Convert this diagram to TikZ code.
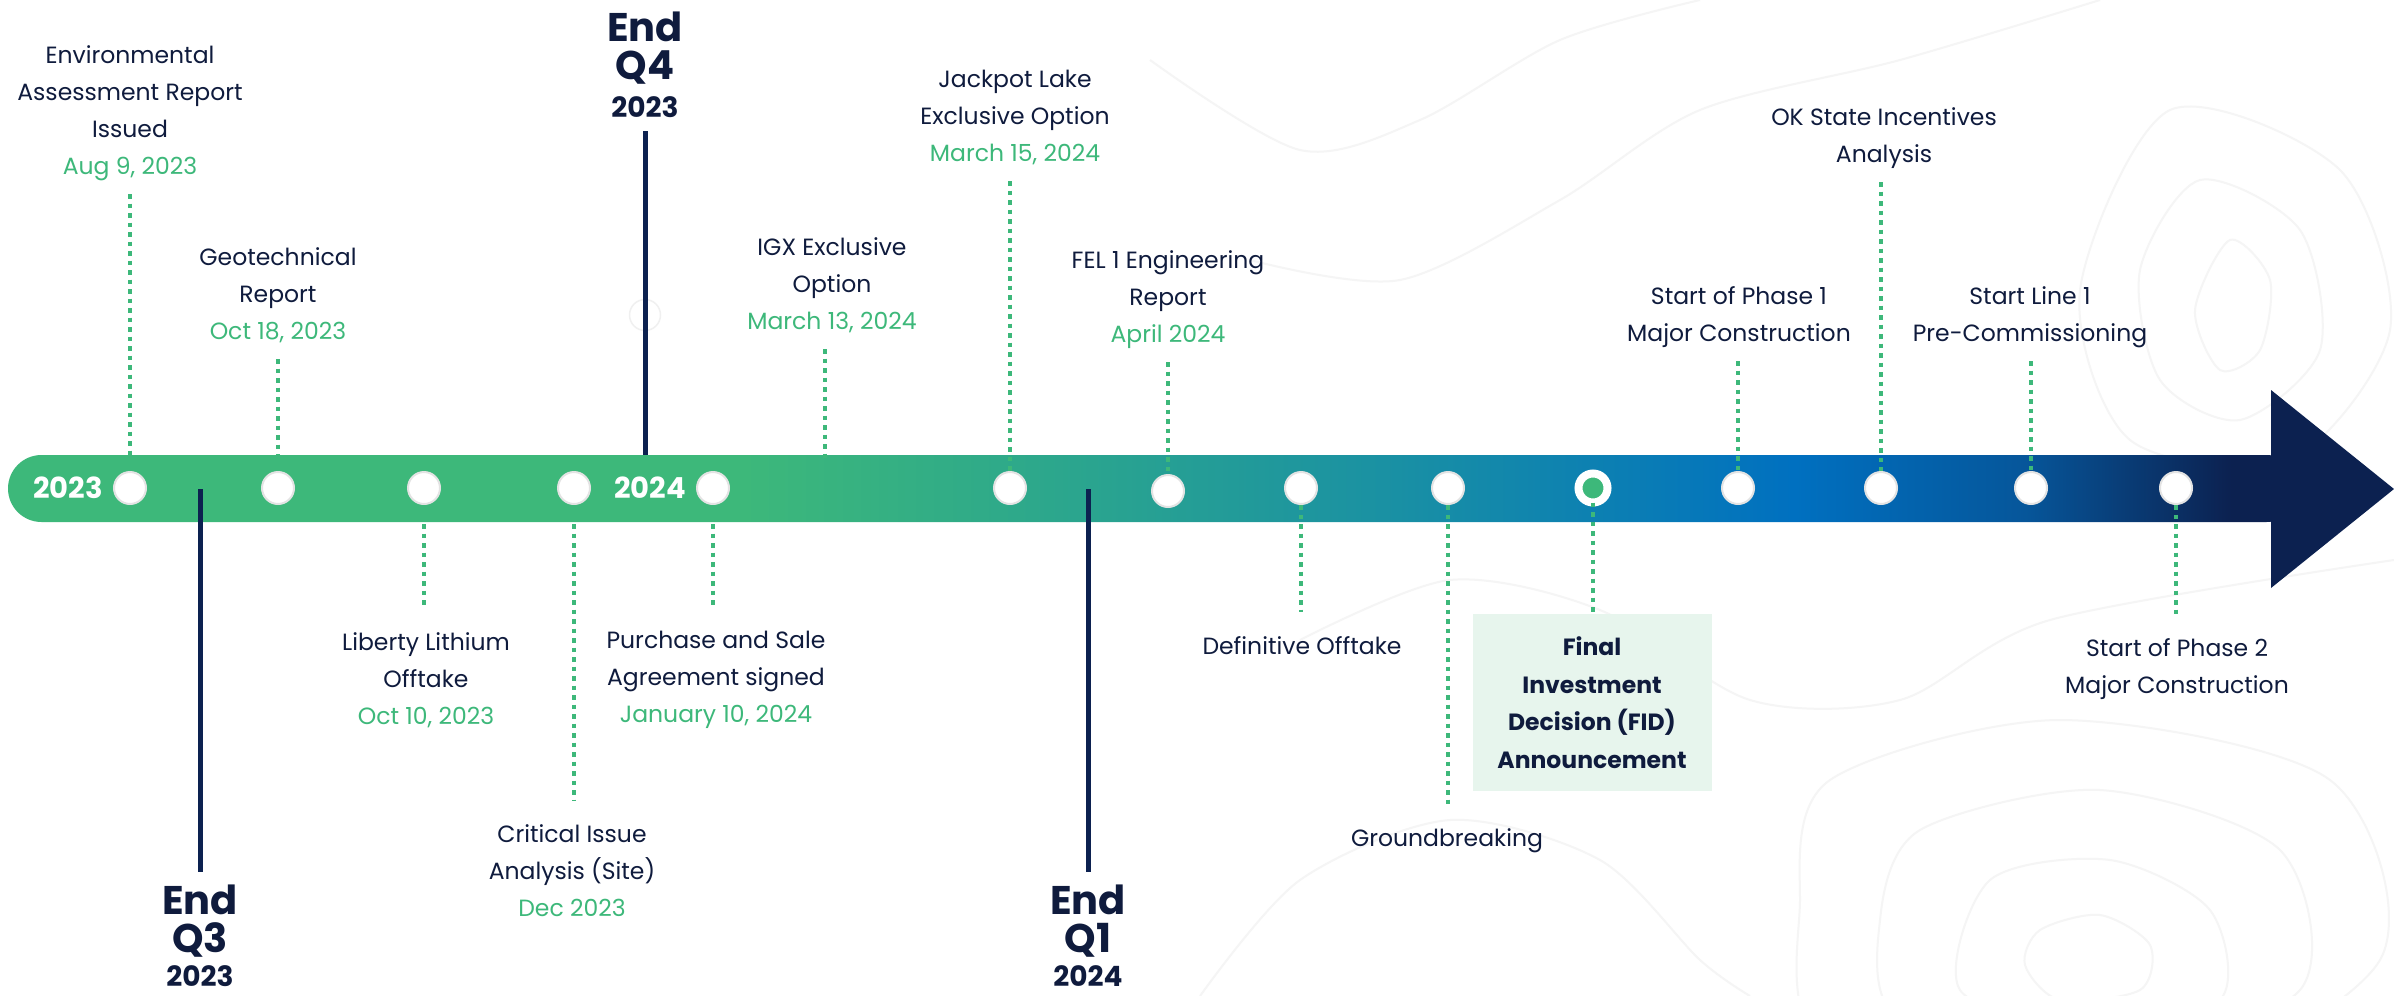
\documentclass[tikz,border=0pt]{standalone}
\usepackage{fontspec}
\setmainfont{Poppins}
\usepackage{xcolor}
\usepackage{tikz}
\usetikzlibrary{positioning, calc}

\definecolor{tlgreen}{HTML}{3DB87A}
\definecolor{tlgm}{HTML}{2EA98A}
\definecolor{tlteal}{HTML}{1A91A3}
\definecolor{tlblue}{HTML}{0070C0}
\definecolor{tlmid}{HTML}{06569A}
\definecolor{tlnavy}{HTML}{0C2150}
\definecolor{tlink}{HTML}{0F1B3D}
\definecolor{fidfill}{HTML}{E7F5ED}

\pgfdeclarehorizontalshading{barshade}{100bp}{color(0bp)=(tlgreen); color(41bp)=(tlgreen);
  color(47bp)=(tlgm); color(55bp)=(tlteal); color(64bp)=(tlblue); color(69bp)=(tlmid);
  color(73.5bp)=(tlnavy); color(100bp)=(tlnavy)}

\begin{document}
\begin{tikzpicture}[x=1pt, y=-1pt,
    event/.style={
        circle, fill=white, draw=gray!22, line width=2pt,
        minimum size=32pt, inner sep=0pt
    },
    keyevent/.style={
        circle, fill=tlgreen, draw=white, line width=8pt,
        minimum size=29pt, inner sep=0pt
    },
    lbl/.style={align=center, text=tlink, font=\fontsize{23.5}{37}\selectfont},
    uplbl/.style={lbl, anchor=south, inner ysep=13pt, text depth=6pt},
    downlbl/.style={lbl, anchor=north, inner ysep=24pt},
    fidbox/.style={
        rectangle, fill=fidfill, anchor=north, align=center, text=tlink,
        font=\bfseries\fontsize{23.5}{37.5}\selectfont,
        minimum width=239pt, minimum height=177pt
    },
    quarter/.style={align=center, text=tlink, inner ysep=13pt,
        font=\bfseries\fontsize{40}{38}\selectfont},
    yearlbl/.style={text=white, font=\bfseries\fontsize{29}{30}\selectfont},
    dots/.style={tlgreen, line width=4.5pt, dash pattern=on 4.5pt off 5pt},
    qline/.style={tlnavy, line width=5pt},
    topo/.style={black!4, line width=2pt}
]
\useasboundingbox[fill=white] (0,0) rectangle (2394,996);

% faint contour background
\draw[topo] plot[smooth cycle] coordinates {(2040,930) (2100,915) (2150,945) (2140,990) (2060,1000) (2025,965)};
\draw[topo] plot[smooth cycle] coordinates {(1990,880) (2110,860) (2210,910) (2220,1000) (2090,1030) (1960,990)};
\draw[topo] plot[smooth cycle] coordinates {(1920,830) (2100,790) (2280,850) (2300,990) (2100,1060) (1900,1020) (1880,920)};
\draw[topo] plot[smooth cycle] coordinates {(1830,780) (2060,720) (2330,780) (2380,960) (2150,1090) (1830,1050) (1800,900)};
\draw[topo] plot[smooth cycle] coordinates {(2230,240) (2270,280) (2260,350) (2220,370) (2195,310)};
\draw[topo] plot[smooth cycle] coordinates {(2200,180) (2300,230) (2320,350) (2240,420) (2160,380) (2140,270)};
\draw[topo] plot[smooth cycle] coordinates {(2170,110) (2340,170) (2390,330) (2290,460) (2130,440) (2080,290)};
\draw[topo] plot[smooth] coordinates {(1150,60) (1300,150) (1420,120) (1560,40) (1700,0)};
\draw[topo] plot[smooth] coordinates {(1250,260) (1400,280) (1560,200) (1700,110) (1900,60) (2100,0)};
\draw[topo] plot[smooth] coordinates {(1300,640) (1450,580) (1600,610) (1750,700) (1900,700) (2050,620) (2394,560)};
\draw[topo] plot[smooth] coordinates {(1200,996) (1300,880) (1450,820) (1600,860) (1700,960) (1750,996)};

% timeline bar and arrow head
\shade[shading=barshade, rounded corners=33.5pt] (8,455) rectangle (2300,522);
\fill[tlnavy] (2271,390) -- (2394,489) -- (2271,588) -- cycle;

\node[yearlbl] (y23) at (68,488) {2023};
\node[yearlbl] (y24) at (650,488) {2024};

% quarter markers
\node[circle, draw=gray!12, line width=1.5pt, minimum size=31pt] (ghost) at (645,315) {};
\coordinate (q4end) at (645,455);
\coordinate (q3start) at (200,489);
\coordinate (q1start) at (1088,489);
\node[quarter, anchor=south] (q4) at (645,131) {End\\Q4\\{\fontsize{28}{30}\selectfont 2023}};
\node[quarter, anchor=north] (q3) at (200,872) {End\\Q3\\[-4pt]{\fontsize{28}{30}\selectfont 2023}};
\node[quarter, anchor=north] (q1) at (1088,872) {End\\Q1\\[-4pt]{\fontsize{28}{30}\selectfont 2024}};
\draw[qline] (q4) -- (q4end);
\draw[qline] (q3start) -- (q3);
\draw[qline] (q1start) -- (q1);

% milestones on the bar
\node[event] (m1) at (130,488) {};
\node[event] (m2) at (278,488) {};
\node[event] (m3) at (424,488) {};
\node[event] (m4) at (574,488) {};
\node[event] (m5) at (713,488) {};
\node[event] (m6) at (1010,488) {};
\node[event] (m7) at (1168,491) {};
\node[event] (m8) at (1301,488) {};
\node[event] (m9) at (1448,488) {};
\node[keyevent] (m10) at (1593,488) {};
\node[event] (m11) at (1738,488) {};
\node[event] (m12) at (1881,488) {};
\node[event] (m13) at (2031,488) {};
\node[event] (m14) at (2176,488) {};
\coordinate (igxend) at (825,462);

% labels
\node[uplbl] (l1) at (130,194) {Environmental\\Assessment Report\\Issued\\\textcolor{tlgreen}{Aug 9, 2023}};
\node[uplbl] (l2) at (278,359) {Geotechnical\\Report\\\textcolor{tlgreen}{Oct 18, 2023}};
\node[downlbl] (l3) at (426,608) {Liberty Lithium\\Offtake\\\textcolor{tlgreen}{Oct 10, 2023}};
\node[downlbl] (l4) at (572,800) {Critical Issue\\Analysis (Site)\\\textcolor{tlgreen}{Dec 2023}};
\node[downlbl] (l5) at (716,607) {Purchase and Sale\\Agreement signed\\\textcolor{tlgreen}{January 10, 2024}};
\node[uplbl] (igx) at (832,349) {IGX Exclusive\\Option\\\textcolor{tlgreen}{March 13, 2024}};
\node[uplbl] (l6) at (1015,181) {Jackpot Lake\\Exclusive Option\\\textcolor{tlgreen}{March 15, 2024}};
\node[uplbl] (l7) at (1168,362) {FEL 1 Engineering\\Report\\\textcolor{tlgreen}{April 2024}};
\node[downlbl] (l8) at (1302,612) {Definitive Offtake};
\node[downlbl] (l9) at (1447,804) {Groundbreaking};
\node[fidbox] (fid) at (1592,614) {Final\\Investment\\Decision (FID)\\Announcement};
\node[uplbl] (l11) at (1739,361) {Start of Phase 1\\Major Construction};
\node[uplbl] (l12) at (1884,182) {OK State Incentives\\Analysis};
\node[uplbl] (l13) at (2030,361) {Start Line 1\\Pre-Commissioning};
\node[downlbl] (l14) at (2177,614) {Start of Phase 2\\Major Construction};

% dotted connectors
\draw[dots] (l1.south -| m1) -- (m1.north);
\draw[dots] (l2.south -| m2) -- (m2.north);
\draw[dots] (m3.south) -- (l3.north -| m3);
\draw[dots] (m4.south) -- (l4.north -| m4);
\draw[dots] (m5.south) -- (l5.north -| m5);
\draw[dots] (igx.south -| igxend) -- (igxend);
\draw[dots] (l6.south -| m6) -- (m6.north);
\draw[dots] (l7.south -| m7) -- (m7.north);
\draw[dots] (m8.south) -- (l8.north -| m8);
\draw[dots] (m9.south) -- (l9.north -| m9);
\draw[dots] ([yshift=4pt]m10.south) -- (fid.north -| m10);
\draw[dots] (l11.south -| m11) -- (m11.north);
\draw[dots] (l12.south -| m12) -- (m12.north);
\draw[dots] (l13.south -| m13) -- (m13.north);
\draw[dots] (m14.south) -- (l14.north -| m14);

\end{tikzpicture}
\end{document}
